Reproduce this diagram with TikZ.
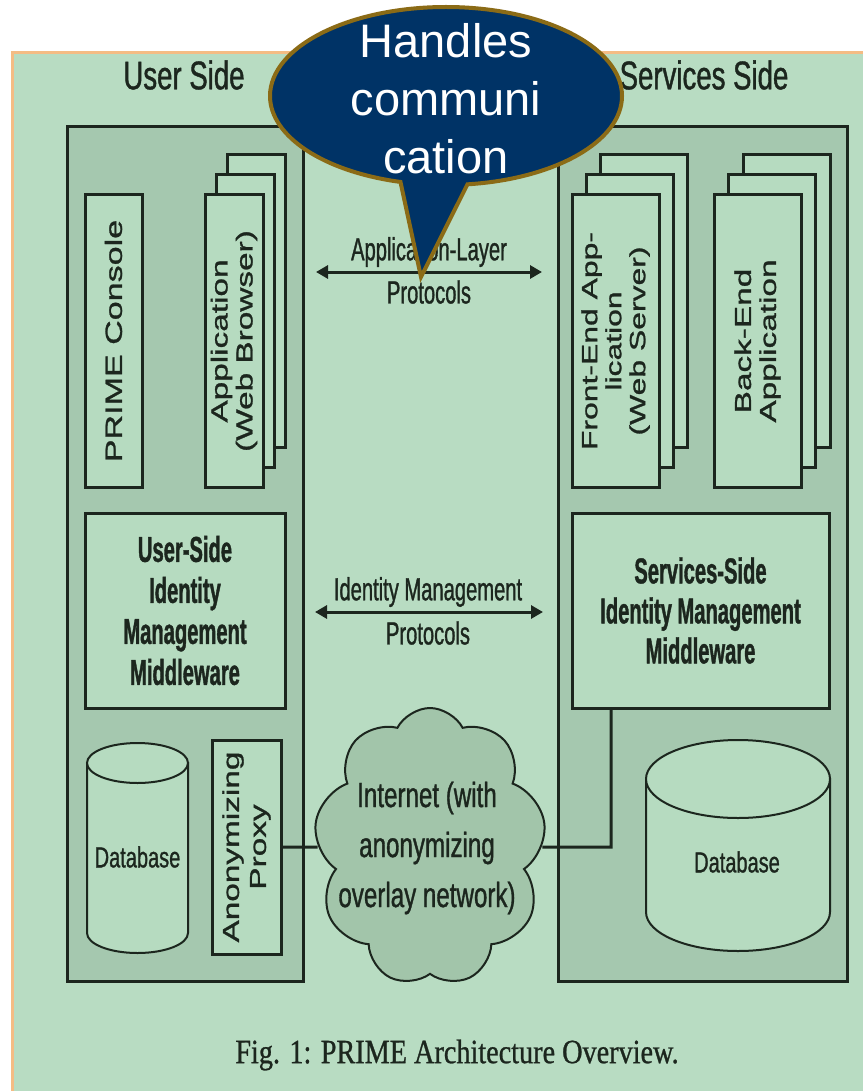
\documentclass[tikz,border=0pt]{standalone}
\usepackage{fontspec}
\usetikzlibrary{arrows.meta,shapes.geometric,shapes.symbols,shapes.callouts}

\newfontfamily\hsans[FakeStretch=0.69,FakeBold=1]{Liberation Sans}
\newfontfamily\csans[FakeStretch=0.63,FakeBold=1]{Liberation Sans}
\newfontfamily\bsans[FakeStretch=0.56,FakeBold=1]{Liberation Sans}
\newfontfamily\vsans[FakeStretch=1.45,FakeBold=1.2]{Liberation Sans}
\newfontfamily\callfont{Liberation Sans}
\newfontfamily\capserif[FakeStretch=0.83,FakeBold=0.8]{Liberation Serif}

\definecolor{bggreen}{HTML}{B8DCC2}
\definecolor{boxgreen}{HTML}{A5C8AF}
\definecolor{innergreen}{HTML}{B6DBC0}
\definecolor{cloudgreen}{HTML}{A2C5AA}
\definecolor{ink}{HTML}{1C261E}
\definecolor{rim}{HTML}{F4BC84}
\definecolor{calloutblue}{HTML}{003366}
\definecolor{callouttrim}{HTML}{8B6B16}

\begin{document}
\begin{tikzpicture}[x=1pt, y=-1pt,
    outer/.style={draw=ink, line width=3pt, fill=boxgreen},
    box/.style={draw=ink, line width=3pt, fill=innergreen},
    cyl/.style={draw=ink, line width=2pt, fill=innergreen},
    link/.style={draw=ink, line width=3pt},
    proto/.style={<->, >={Triangle[length=12pt,width=13pt]}, draw=ink, line width=3pt},
    side/.style={text=ink, font=\hsans\fontsize{40}{48}\selectfont},
    plabel/.style={text=ink, inner sep=0pt, font=\csans\fontsize{32}{38}\selectfont},
    vlabel/.style={rotate=90, align=center, text=ink, font=\vsans\fontsize{23}{25}\selectfont},
    midtext/.style={align=center, text=ink, font=\bsans\bfseries\fontsize{36}{41}\selectfont},
    dbtext/.style={text=ink, font=\hsans\fontsize{29}{34}\selectfont},
    cloudtext/.style={align=center, text=ink, font=\hsans\fontsize{35}{50}\selectfont},
    calltext/.style={align=center, text=white, font=\callfont\fontsize{47}{58}\selectfont}]

    \useasboundingbox (0,0) rectangle (863,1091);
    \fill[white] (0,0) rectangle (863,1091);
    \fill[bggreen] (12,53) rectangle (863,1091);
    \draw[rim, line width=3pt] (12,1091) -- (12,53) -- (863,53);

    \node[side] (usertitle) at (184,75) {User Side};
    \node[side] (servtitle) at (704,75) {Services Side};

    \node[outer, minimum width=236pt, minimum height=854pt] (userside) at (185,554) {};
    \node[outer, minimum width=289pt, minimum height=854pt] (servside) at (702.5,554) {};

    % user side
    \node[box, minimum width=57pt, minimum height=292pt] (console) at (113.5,341) {};
    \node[vlabel, font=\vsans\fontsize{23.5}{25}\selectfont] at (console) {PRIME Console};

    \foreach \i in {2,1,0}
        \node[box, minimum width=58pt, minimum height=292pt] (app\i) at ({234+11*\i},{341-20*\i}) {};
    \node[vlabel] at (app0) {Application\\(Web Browser)};

    \node[box, minimum width=200pt, minimum height=195pt] (useridm) at (185,610.5) {};
    \node[midtext] at (useridm) {User-Side\\Identity\\Management\\Middleware};

    \filldraw[cyl] (87,763) -- (87,933) arc[start angle=180, end angle=0, x radius=50.5, y radius=20] -- (188,763) -- cycle;
    \filldraw[cyl] (137.5,763) ellipse [x radius=50.5, y radius=20];
    \node[dbtext] (userdb) at (137.5,857) {Database};

    \node[box, minimum width=69pt, minimum height=214pt] (proxy) at (246.5,847) {};
    \node[vlabel, font=\vsans\fontsize{23}{27}\selectfont] at (proxy) {Anonymizing\\Proxy};

    % services side
    \foreach \i in {2,1,0}
        \node[box, minimum width=87pt, minimum height=292pt] (front\i) at ({615.5+14*\i},{341-20*\i}) {};
    \node[vlabel, font=\vsans\fontsize{22}{24}\selectfont] at (front0) {Front-End App-\\lication\\(Web Server)};

    \foreach \i in {2,1,0}
        \node[box, minimum width=87pt, minimum height=292pt] (back\i) at ({757.5+14.5*\i},{341-20*\i}) {};
    \node[vlabel] at (back0) {Back-End\\Application};

    \node[box, minimum width=257pt, minimum height=195pt] (servidm) at (700.5,610.5) {};
    \node[midtext, font=\bsans\bfseries\fontsize{36}{40}\selectfont] at (servidm) {Services-Side\\Identity Management\\Middleware};

    \filldraw[cyl] (646,779) -- (646,912) arc[start angle=180, end angle=0, x radius=92, y radius=39] -- (830,779) -- cycle;
    \filldraw[cyl] (738,779) ellipse [x radius=92, y radius=39];
    \node[dbtext] (servdb) at (737,862) {Database};

    % protocols in the middle
    \coordinate (appL) at (316,272);
    \coordinate (appR) at (542,272);
    \draw[proto] (appL) -- (appR);
    \node[plabel] (applayer) at (429,252) {Application-Layer};
    \node[plabel] (approto) at (429,292) {Protocols};

    \coordinate (idmL) at (315,612);
    \coordinate (idmR) at (543,612);
    \draw[proto] (idmL) -- (idmR);
    \node[plabel] (idmlayer) at (428,592) {Identity Management};
    \node[plabel] (idmproto) at (428,633) {Protocols};

    \node[cloud, cloud puffs=9, cloud puff arc=125, aspect=0.85, draw=ink, line width=2pt,
          fill=cloudgreen, minimum width=232pt, minimum height=278pt] (inet) at (430,847) {};
    \node[cloudtext] at (427,848) {Internet (with\\anonymizing\\overlay network)};

    \coordinate (bend) at (611,847);
    \draw[link] (proxy.east) -- (inet);
    \draw[link] (inet) -- (bend) -- (servidm.south -| bend);

    \node[text=ink, font=\capserif\fontsize{34}{40}\selectfont] (caption) at (457,1055) {Fig. 1: PRIME Architecture Overview.};

    % callout on top
    \coordinate (tip) at (421,277);
    \node[ellipse callout, draw=callouttrim, fill=calloutblue, line width=4pt,
          minimum width=352pt, minimum height=178pt, inner sep=0pt,
          callout absolute pointer={(tip)}, callout pointer arc=22] (callout) at (446,96) {};
    \node[calltext] at (446,99) {Handles\\communi\\cation};

\end{tikzpicture}
\end{document}
